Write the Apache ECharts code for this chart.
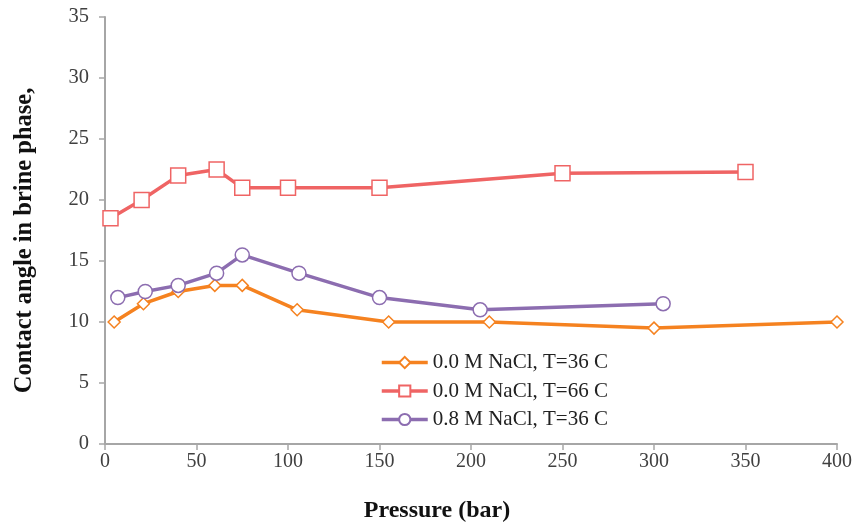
<!DOCTYPE html>
<html>
<head>
<meta charset="utf-8">
<script src="https://cdn.jsdelivr.net/npm/echarts@6/dist/echarts.min.js"></script>
<style>
  html, body { margin: 0; padding: 0; background: #fff; }
  #chart { width: 858px; height: 528px; }
</style>
</head>
<body>
<div id="chart"></div>
<script>
// series names
var seriesNames = ['0.0 M NaCl, T=36 C', '0.0 M NaCl, T=66 C', '0.8 M NaCl, T=36 C'];

// pressure (bar) / contact angle
var p36 = [5, 21, 40, 60, 75, 105, 155, 210, 300, 400];
var a36 = [10, 11.5, 12.5, 13, 13, 11, 10, 10, 9.5, 10];

var p66 = [3, 20, 40, 61, 75, 100, 150, 250, 350];
var a66 = [18.5, 20, 22, 22.5, 21, 21, 21, 22.2, 22.3];

var p08 = [7, 22, 40, 61, 75, 106, 150, 205, 305];
var a08 = [12, 12.5, 13, 14, 15.5, 14, 12, 11, 11.5];

var colors = ['#F58220', '#EF6464', '#8C6DB0'];

function pairs(xs, ys) {
	var out = [];
	for (var i = 0; i < xs.length; i++) out.push([xs[i], ys[i]]);
	return out;
}

var chart = echarts.init(document.getElementById('chart'));
var serif = '"Liberation Serif", "DejaVu Serif", serif';

var option = {
	animation: false,
	color: colors,
	grid: { left: 105, right: 21, top: 17, bottom: 80 },
	legend: {
		orient: 'vertical',
		left: 375,
		top: 347,
		itemWidth: 46,
		itemHeight: 14,
		itemGap: 7.5,
		lineStyle: { width: 3.5 },
		textStyle: { fontFamily: serif, fontSize: 21, color: '#222' },
		data: seriesNames
	},
	xAxis: {
		type: 'value',
		min: 0, max: 400, interval: 50,
		name: 'Pressure (bar)',
		nameLocation: 'middle',
		nameGap: 55,
		nameTextStyle: { fontFamily: serif, fontSize: 24, fontWeight: 'bold', color: '#111', padding: [0, 68, 0, 0] },
		axisLine: { lineStyle: { color: '#A6A6A6', width: 2 } },
		axisTick: { show: true, length: 6, lineStyle: { color: '#A6A6A6', width: 1.5 } },
		axisLabel: { fontFamily: serif, fontSize: 20, color: '#404040', margin: 8 },
		splitLine: { show: false }
	},
	yAxis: {
		type: 'value',
		min: 0, max: 35, interval: 5,
		name: 'Contact angle in brine phase,',
		nameLocation: 'middle',
		nameGap: 68,
		nameTextStyle: { fontFamily: serif, fontSize: 24.5, fontWeight: 'bold', color: '#111', padding: [0, 20, 0, 0] },
		axisLine: { show: true, lineStyle: { color: '#A6A6A6', width: 2 } },
		axisTick: { show: true, length: 6, lineStyle: { color: '#A6A6A6', width: 1.5 } },
		axisLabel: { fontFamily: serif, fontSize: 20.5, color: '#404040', margin: 16 },
		splitLine: { show: false }
	},
	series: [
		{
			name: seriesNames[0],
			type: 'line',
			data: pairs(p36, a36),
			symbol: 'diamond',
			symbolSize: 12,
			lineStyle: { width: 3.5, color: colors[0] },
			itemStyle: { color: '#fff', borderColor: colors[0], borderWidth: 1.5 }
		},
		{
			name: seriesNames[1],
			type: 'line',
			data: pairs(p66, a66),
			symbol: 'rect',
			symbolSize: 15,
			lineStyle: { width: 3.5, color: colors[1] },
			itemStyle: { color: '#fff', borderColor: colors[1], borderWidth: 1.5 }
		},
		{
			name: seriesNames[2],
			type: 'line',
			data: pairs(p08, a08),
			symbol: 'circle',
			symbolSize: 14,
			lineStyle: { width: 3.5, color: colors[2] },
			itemStyle: { color: '#fff', borderColor: colors[2], borderWidth: 1.5 }
		}
	]
};
chart.setOption(option);
</script>
</body>
</html>
